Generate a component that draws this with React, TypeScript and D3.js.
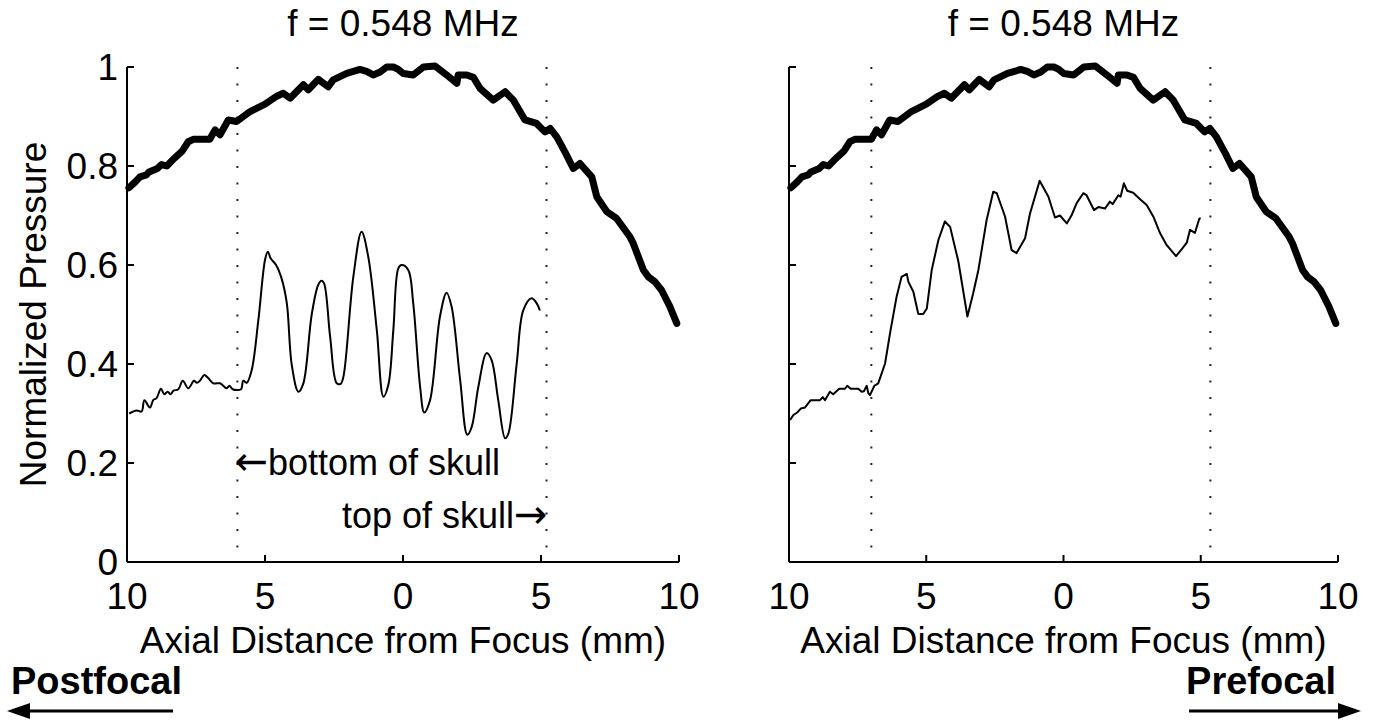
import React from "react";
import * as d3 from "d3";

// ---- data ----
const xTicks = [-10, -5, 0, 5, 10];
const yTicks = [0, 0.2, 0.4, 0.6, 0.8, 1];
const titleText = "f = 0.548 MHz";
const xLabel = "Axial Distance from Focus (mm)";
const yLabel = "Normalized Pressure";

// free-field (thick) curve, same in both panels: [axial mm, normalized pressure]
const freeField: [number, number][] = [
  [-9.93, 0.756], [-9.7, 0.768], [-9.53, 0.778], [-9.3, 0.782], [-9.2, 0.788], [-8.9, 0.795], [-8.75, 0.803],
  [-8.56, 0.8], [-8.3, 0.815], [-8.0, 0.83], [-7.78, 0.849], [-7.6, 0.854], [-7.0, 0.854], [-6.81, 0.873],
  [-6.63, 0.863], [-6.33, 0.893], [-6.03, 0.89], [-5.54, 0.91], [-5.0, 0.925], [-4.6, 0.94], [-4.34, 0.947],
  [-4.09, 0.937], [-3.61, 0.964], [-3.43, 0.954], [-3.07, 0.975], [-2.71, 0.96], [-2.53, 0.974], [-2.04, 0.987],
  [-1.56, 0.995], [-1.32, 0.991], [-1.08, 0.984], [-0.83, 0.99], [-0.59, 1.0], [-0.35, 1.0], [-0.17, 0.995],
  [0.01, 0.987], [0.37, 0.984], [0.74, 1.0], [1.16, 1.002], [1.58, 0.984], [1.95, 0.967], [2.0, 0.984],
  [2.31, 0.984], [2.55, 0.979], [2.79, 0.957], [3.27, 0.933], [3.7, 0.95], [4.0, 0.933], [4.42, 0.893],
  [4.84, 0.886], [5.14, 0.869], [5.33, 0.876], [5.57, 0.859], [5.9, 0.825], [6.17, 0.795], [6.41, 0.805],
  [6.84, 0.778], [7.02, 0.738], [7.38, 0.708], [7.74, 0.694], [8.22, 0.657], [8.34, 0.644], [8.71, 0.59],
  [8.89, 0.576], [9.13, 0.566], [9.37, 0.549], [9.67, 0.516], [9.92, 0.482],
];

// through-skull (thin) curve, left panel
const skullLeft: [number, number][] = [
  [-9.92, 0.3], [-9.65, 0.306], [-9.47, 0.304], [-9.37, 0.327], [-9.17, 0.312], [-9.05, 0.327], [-8.93, 0.331],
  [-8.77, 0.35], [-8.65, 0.339], [-8.53, 0.344], [-8.42, 0.339], [-8.32, 0.346], [-8.14, 0.349], [-7.98, 0.366],
  [-7.78, 0.351], [-7.57, 0.366], [-7.47, 0.362], [-7.36, 0.366], [-7.2, 0.378], [-7.05, 0.371], [-6.87, 0.361],
  [-6.63, 0.361], [-6.39, 0.351], [-6.29, 0.356], [-6.17, 0.349], [-5.87, 0.349], [-5.79, 0.366], [-5.66, 0.362],
  [-5.48, 0.388], [-5.24, 0.489], [-5.0, 0.61], [-4.9, 0.627], [-4.79, 0.613], [-4.6, 0.6], [-4.4, 0.573],
  [-4.21, 0.523], [-4.03, 0.398], [-3.79, 0.344], [-3.61, 0.361], [-3.31, 0.499], [-3.07, 0.56], [-2.95, 0.568],
  [-2.86, 0.563], [-2.64, 0.455], [-2.4, 0.361], [-2.26, 0.36], [-2.16, 0.374], [-1.8, 0.576], [-1.5, 0.667],
  [-1.26, 0.617], [-0.95, 0.469], [-0.71, 0.334], [-0.53, 0.358], [-0.35, 0.469], [-0.17, 0.593], [-0.05, 0.6],
  [0.19, 0.59], [0.37, 0.523], [0.62, 0.354], [0.77, 0.302], [0.98, 0.327], [1.34, 0.496], [1.58, 0.544],
  [1.76, 0.516], [2.07, 0.368], [2.33, 0.257], [2.49, 0.273], [2.73, 0.354], [3.03, 0.422], [3.21, 0.408],
  [3.45, 0.327], [3.7, 0.25], [3.82, 0.26], [4.12, 0.401], [4.36, 0.509], [4.66, 0.533], [4.84, 0.523],
  [4.96, 0.508],
];

// through-skull (thin) curve, right panel
const skullRight: [number, number][] = [
  [-9.96, 0.287], [-9.84, 0.297], [-9.7, 0.302], [-9.57, 0.31], [-9.42, 0.312], [-9.21, 0.327], [-8.87, 0.327],
  [-8.77, 0.333], [-8.69, 0.327], [-8.51, 0.344], [-8.39, 0.339], [-8.17, 0.35], [-7.96, 0.35], [-7.88, 0.356],
  [-7.75, 0.35], [-7.48, 0.35], [-7.35, 0.344], [-7.27, 0.345], [-7.17, 0.356], [-7.11, 0.341], [-7.05, 0.337],
  [-6.89, 0.356], [-6.75, 0.361], [-6.5, 0.401], [-6.32, 0.462], [-6.08, 0.536], [-5.9, 0.576], [-5.71, 0.582],
  [-5.65, 0.566], [-5.47, 0.546], [-5.29, 0.501], [-5.11, 0.501], [-4.98, 0.512], [-4.8, 0.59], [-4.56, 0.65],
  [-4.32, 0.688], [-4.13, 0.677], [-3.83, 0.607], [-3.5, 0.496], [-3.29, 0.543], [-3.1, 0.59], [-2.8, 0.691],
  [-2.56, 0.748], [-2.43, 0.745], [-2.13, 0.698], [-1.89, 0.63], [-1.71, 0.624], [-1.4, 0.654], [-1.22, 0.704],
  [-0.87, 0.77], [-0.55, 0.738], [-0.31, 0.696], [-0.13, 0.7], [0.12, 0.684], [0.3, 0.701], [0.48, 0.725],
  [0.72, 0.745], [0.84, 0.741], [1.11, 0.711], [1.27, 0.717], [1.51, 0.714], [1.69, 0.728], [1.79, 0.723],
  [2.0, 0.741], [2.08, 0.738], [2.2, 0.765], [2.32, 0.75], [2.54, 0.746], [2.79, 0.733], [3.03, 0.721],
  [3.27, 0.698], [3.52, 0.664], [3.76, 0.64], [4.1, 0.618], [4.31, 0.632], [4.49, 0.645], [4.61, 0.671],
  [4.79, 0.665], [4.95, 0.694], [5.0, 0.694],
];

// skull boundary positions (mm)
const skullBoundsLeft = [-6.0, 5.2];
const skullBoundsRight = [-7.0, 5.35];

const FONT = "'Liberation Sans', Arial, Helvetica, sans-serif";
const ARROW_FONT = "'DejaVu Sans', sans-serif";

type PanelProps = {
  x0: number;
  x1: number;
  thin: [number, number][];
  smooth: boolean;
  bounds: number[];
  showYLabels: boolean;
  annotate: boolean;
};

const Y0 = 562;
const Y1 = 67;

function Panel({ x0, x1, thin, smooth, bounds, showYLabels, annotate }: PanelProps) {
  const x = d3.scaleLinear().domain([-10, 10]).range([x0, x1]);
  const y = d3.scaleLinear().domain([0, 1]).range([Y0, Y1]);
  const line = d3
    .line<[number, number]>()
    .x((d) => x(d[0]))
    .y((d) => y(d[1]));
  const thinLine = d3
    .line<[number, number]>()
    .x((d) => x(d[0]))
    .y((d) => y(d[1]))
    .curve(smooth ? d3.curveCatmullRom.alpha(0.5) : d3.curveLinear);
  const cx = (x0 + x1) / 2;
  return (
    <g>
      <text x={cx} y={36} textAnchor="middle" fontSize={37} fontFamily={FONT}>
        {titleText}
      </text>
      {bounds.map((b, i) => (
        <line
          key={i}
          x1={x(b)}
          x2={x(b)}
          y1={Y1}
          y2={Y0}
          stroke="#222"
          strokeWidth={2}
          strokeDasharray="2 14.5"
        />
      ))}
      <line x1={x0} x2={x0} y1={Y0} y2={Y1} stroke="#000" strokeWidth={2} />
      <line x1={x0} x2={x1} y1={Y0} y2={Y0} stroke="#000" strokeWidth={2} />
      {yTicks.map((t) => (
        <g key={"y" + t}>
          <line x1={x0} x2={x0 + 7} y1={y(t)} y2={y(t)} stroke="#000" strokeWidth={2} />
          {showYLabels && (
            <text x={x0 - 9} y={y(t) + 13} textAnchor="end" fontSize={37} fontFamily={FONT}>
              {String(t)}
            </text>
          )}
        </g>
      ))}
      {xTicks.map((t) => (
        <g key={"x" + t}>
          <line x1={x(t)} x2={x(t)} y1={Y0} y2={Y0 - 7} stroke="#000" strokeWidth={2} />
          <text x={x(t)} y={609} textAnchor="middle" fontSize={37} fontFamily={FONT}>
            {String(Math.abs(t))}
          </text>
        </g>
      ))}
      <text x={cx} y={653} textAnchor="middle" fontSize={37} fontFamily={FONT}>
        {xLabel}
      </text>
      <path d={thinLine(thin) || ""} fill="none" stroke="#000" strokeWidth={2} strokeLinejoin="round" />
      <path
        d={line(freeField) || ""}
        fill="none"
        stroke="#000"
        strokeWidth={7}
        strokeLinejoin="round"
        strokeLinecap="round"
      />
      {annotate && (
        <g fontFamily={FONT} fontSize={36}>
          <text x={x(bounds[0]) - 3} y={475} textAnchor="start">
            <tspan fontFamily={ARROW_FONT} fontSize={40}>←</tspan>
            <tspan>bottom of skull</tspan>
          </text>
          <text x={x(bounds[1]) + 1} y={528} textAnchor="end">
            <tspan>top of skull</tspan>
            <tspan fontFamily={ARROW_FONT} fontSize={40}>→</tspan>
          </text>
        </g>
      )}
    </g>
  );
}

export default function App() {
  return (
    <svg width={1376} height={721} style={{ position: "absolute", left: 0, top: 0, background: "#fff" }}>
      <rect width={1376} height={721} fill="#fff" />
      <text
        transform={`translate(46, ${(Y0 + Y1) / 2}) rotate(-90)`}
        textAnchor="middle"
        fontSize={37}
        fontFamily={FONT}
      >
        {yLabel}
      </text>
      <Panel x0={127} x1={679} thin={skullLeft} smooth={true} bounds={skullBoundsLeft} showYLabels={true} annotate={true} />
      <Panel x0={789} x1={1338} thin={skullRight} smooth={false} bounds={skullBoundsRight} showYLabels={false} annotate={false} />
      <text x={11} y={694} fontSize={38} fontWeight="bold" fontFamily={FONT}>
        Postfocal
      </text>
      <line x1={26} x2={173} y1={711} y2={711} stroke="#000" strokeWidth={3} />
      <path d="M7,711 L30,703 L30,719 Z" fill="#000" />
      <text x={1336} y={694} textAnchor="end" fontSize={38} fontWeight="bold" fontFamily={FONT}>
        Prefocal
      </text>
      <line x1={1189} x2={1342} y1={711} y2={711} stroke="#000" strokeWidth={3} />
      <path d="M1361,711 L1338,703 L1338,719 Z" fill="#000" />
    </svg>
  );
}
